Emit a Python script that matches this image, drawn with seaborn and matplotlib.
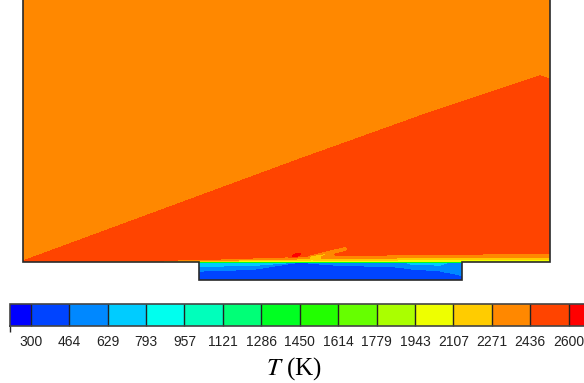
import numpy as np
import matplotlib
matplotlib.use("Agg")
import matplotlib.pyplot as plt
import matplotlib.cm as mcm
from matplotlib.colors import BoundaryNorm, ListedColormap
import seaborn as sns

# ---------------- data ----------------
TICK_LABELS = [300, 464, 629, 793, 957, 1121, 1286, 1450, 1614, 1779,
               1943, 2107, 2271, 2436, 2600]
BAND_COLORS = ["#0000FF", "#0044FF", "#0088FF", "#00CCFF", "#00FFEE", "#00FFBB",
               "#00FF77", "#00FF22", "#22FF00", "#66FF00", "#AAFF00", "#EEFF00",
               "#FFCC00", "#FF8800", "#FF4400", "#FF0000"]
T_LOW_END = 211     # lower end of the under-range legend box
T_HIGH_END = 2764   # upper end of the over-range legend box

# geometry (arbitrary length units)
DOMAIN_LENGTH = 527
DOMAIN_HEIGHT = 270
VIEW_TOP = 262
CAVITY_START = 176
CAVITY_END = 439
CAVITY_DEPTH = 18

# oblique front between free stream and post-front gas
SHOCK_X = [0, 277, 397, 517, 527]
SHOCK_Y = [1, 103, 146, 186, 183]
T_FREESTREAM = 2350
T_POSTSHOCK = 2520

# thermal layer along the lower wall
LAYER_X = [0, 100, 176, 300, 420, 527]
LAYER_THICKNESS = [0.6, 1.5, 3.0, 8.0, 10.0, 11.0]
LAYER_EXPONENT = 0.3
T_WALL = 1400

# cavity
CAV_X = [176, 230, 262, 277, 307, 377, 390, 417, 427, 439]
CAV_LAYER_DEPTH = [11, 9, 3, 0.3, 4.5, 8, 9, 11, 16, 20]
CAV_TOP_T = [780, 780, 760, 600, 580, 580, 720, 720, 600, 600]
T_CAVITY_CORE = 400

# local features
HOT_SPOT_XY = (273, 6.5)
HOT_SPOT_DT = 250
HOT_SPOT_SIZE = (4.5, 1.4)
HOT_SPOT_ANGLE = 20
STREAK_X = [289, 322]
STREAK_Y = [5, 13]
STREAK_DT = -260
STREAK_WIDTH = 2.4

# ---------------- build the temperature field ----------------
x = np.linspace(0, DOMAIN_LENGTH, 1055)
y = np.concatenate([np.linspace(-CAVITY_DEPTH, 20, 381),
                    np.linspace(20.5, DOMAIN_HEIGHT, 500)])
X, Y = np.meshgrid(x, y)

shock_y = np.interp(X, SHOCK_X, SHOCK_Y)
T_out = np.where(Y > shock_y, T_FREESTREAM, T_POSTSHOCK)
delta = np.interp(X, LAYER_X, LAYER_THICKNESS)
eta = np.clip(Y / delta, 0, 1)
T_main = T_WALL + (T_out - T_WALL) * eta ** LAYER_EXPONENT

a = np.deg2rad(HOT_SPOT_ANGLE)
dx, dy = X - HOT_SPOT_XY[0], Y - HOT_SPOT_XY[1]
u = dx * np.cos(a) + dy * np.sin(a)
v = -dx * np.sin(a) + dy * np.cos(a)
T_main = T_main + HOT_SPOT_DT * np.exp(-(u / HOT_SPOT_SIZE[0]) ** 2 - (v / HOT_SPOT_SIZE[1]) ** 2)

ax_, ay_ = STREAK_X[0], STREAK_Y[0]
bx_, by_ = STREAK_X[1] - ax_, STREAK_Y[1] - ay_
t = np.clip(((X - ax_) * bx_ + (Y - ay_) * by_) / (bx_ ** 2 + by_ ** 2), 0, 1)
dist = np.hypot(X - ax_ - t * bx_, Y - ay_ - t * by_)
T_main = T_main + STREAK_DT * np.exp(-(dist / STREAK_WIDTH) ** 2)

depth = -Y
D = np.interp(X, CAV_X, CAV_LAYER_DEPTH)
Ttop = np.interp(X, CAV_X, CAV_TOP_T)
T_cav = T_CAVITY_CORE + (Ttop - T_CAVITY_CORE) * np.clip(1 - depth / D, 0, 1)

T = np.where(Y >= 0, T_main, T_cav)
T = np.clip(T, T_LOW_END + 1, T_HIGH_END - 1)
outside = (Y < 0) & ((X < CAVITY_START) | (X > CAVITY_END))
T = np.ma.masked_where(outside, T)

# ---------------- plot ----------------
sns.set_theme(style="white")
plt.rcParams["font.family"] = ["Liberation Sans", "DejaVu Sans"]
plt.rcParams["mathtext.fontset"] = "stix"

W, H = 584, 383
fig = plt.figure(figsize=(W / 100, H / 100), dpi=100, facecolor="white")

cmap = ListedColormap(sns.color_palette(BAND_COLORS))
bounds = [T_LOW_END] + TICK_LABELS + [T_HIGH_END]
norm = BoundaryNorm(bounds, cmap.N)

ax = fig.add_axes([23 / W, (H - 280) / H, 527 / W, 280 / H])
ax.contourf(X, Y, T, levels=bounds, cmap=cmap, norm=norm)
outline_x = [0, 0, CAVITY_START, CAVITY_START, CAVITY_END, CAVITY_END, DOMAIN_LENGTH, DOMAIN_LENGTH]
outline_y = [DOMAIN_HEIGHT, 0, 0, -CAVITY_DEPTH, -CAVITY_DEPTH, 0, 0, DOMAIN_HEIGHT]
ax.plot(outline_x, outline_y, color="#2a2a2a", lw=1.2, solid_joinstyle="miter", clip_on=False)
ax.set_xlim(0, DOMAIN_LENGTH)
ax.set_ylim(-CAVITY_DEPTH, VIEW_TOP)
ax.set_axis_off()

# legend bar
span_px = (T_HIGH_END - T_LOW_END) / (TICK_LABELS[1] - TICK_LABELS[0]) * 38.35
cax = fig.add_axes([10 / W, (H - 325.7) / H, span_px / W, 21.4 / H])
sm = mcm.ScalarMappable(norm=norm, cmap=cmap)
cb = fig.colorbar(sm, cax=cax, orientation="horizontal", boundaries=bounds,
                  spacing="proportional", ticks=TICK_LABELS, drawedges=True)
cb.outline.set_edgecolor("#444444")
cb.outline.set_linewidth(1.2)
cb.dividers.set_color("#222222")
cb.dividers.set_linewidth(1.0)
cax.tick_params(length=0, pad=7, labelsize=10, colors="#222222")
cax.set_xticklabels([str(v) for v in TICK_LABELS])

fig.text(294 / W, (H - 375) / H, r"$T$ (K)", family="Liberation Serif",
         fontsize=18, ha="center", va="baseline", color="black")

fig.savefig("out.png", dpi=100, facecolor="white")
